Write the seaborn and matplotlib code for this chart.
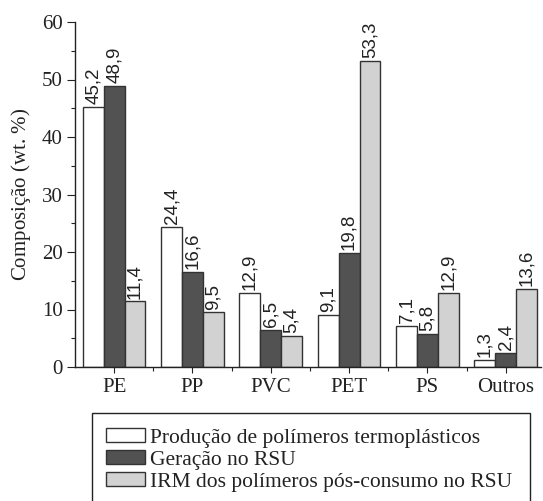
#!/usr/bin/env python
# -*- coding: utf-8 -*-

import pandas as pd
import seaborn as sns
import matplotlib.pyplot as plt
import matplotlib.patches as mpatches
from matplotlib.ticker import MultipleLocator, FixedLocator

# dados
categorias = ["PE", "PP", "PVC", "PET", "PS", "Outros"]
producao = [45.2, 24.4, 12.9, 9.1, 7.1, 1.3]
geracao = [48.9, 16.6, 6.5, 19.8, 5.8, 2.4]
irm = [11.4, 9.5, 5.4, 53.3, 12.9, 13.6]
series = ["Produção de polímeros termoplásticos",
          "Geração no RSU",
          "IRM dos polímeros pós-consumo no RSU"]
cores = ["#ffffff", "#525252", "#d2d2d2"]
borda = "#333333"

valores = [producao, geracao, irm]
linhas = []
for s, vals in zip(series, valores):
    for c, v in zip(categorias, vals):
        linhas.append({"polimero": c, "serie": s, "valor": v})
df = pd.DataFrame(linhas)

sns.set_style("ticks")
plt.rcParams['font.family'] = ['Liberation Serif', 'DejaVu Serif']
plt.rcParams['mathtext.fontset'] = 'custom'
plt.rcParams['mathtext.it'] = 'Liberation Serif:italic'
plt.rcParams['mathtext.rm'] = 'Liberation Serif'

fig = plt.figure(figsize=(5.43, 5.01), dpi=100)
ax = fig.add_axes([75 / 543, 1 - 367 / 501, (541 - 75) / 543, (367 - 22) / 501])

sns.barplot(data=df, x="polimero", y="valor", hue="serie", order=categorias,
            hue_order=series, palette=cores, saturation=1, width=0.8,
            edgecolor=borda, linewidth=1.0, legend=False, ax=ax)

for i, cont in enumerate(ax.containers):
    rotulos = [("%.1f" % v).replace(".", ",") for v in valores[i]]
    ax.bar_label(cont, labels=rotulos, rotation=90, padding=2,
                 fontsize=13.5, family='Liberation Sans', color="#222222")

ax.set_xlim(-0.5, 5.45)
ax.set_ylim(0, 60)
ax.yaxis.set_major_locator(MultipleLocator(10))
ax.yaxis.set_minor_locator(MultipleLocator(5))
ax.xaxis.set_minor_locator(FixedLocator([0.5, 1.5, 2.5, 3.5, 4.5]))
sns.despine(ax=ax)
for sp in ["left", "bottom"]:
    ax.spines[sp].set_color("#222222")
    ax.spines[sp].set_linewidth(1.0)

ax.tick_params(axis="y", which="major", length=6, width=0.8, labelsize=15, pad=3, colors="#222222")
ax.tick_params(axis="y", which="minor", length=3, width=0.8, colors="#222222")
ax.tick_params(axis="x", which="major", length=4, width=0.8, labelsize=15, pad=4, colors="#222222")
ax.tick_params(axis="x", which="minor", length=3, width=0.8, colors="#222222")

ax.set_xlabel("")
ax.set_ylabel(r"Composição (wt. $\mathit{\%}$)", fontsize=15, color="#222222", labelpad=6)

# caixa da legenda, cortada na borda inferior como no original
caixa = mpatches.Rectangle((92 / 543, -0.05), (530 - 92) / 543, (1 - 413 / 501) + 0.05,
                           transform=fig.transFigure, fill=False,
                           edgecolor="#222222", linewidth=1.0)
fig.patches.append(caixa)

handles = [mpatches.Patch(facecolor=c, edgecolor=borda, linewidth=1.0) for c in cores]
leg = fig.legend(handles, series, loc="upper left",
                 bbox_to_anchor=(106 / 543, 1 - 428 / 501),
                 borderaxespad=0, borderpad=0, fontsize=15.5, frameon=False,
                 handlelength=1.8, handleheight=0.65,
                 handletextpad=0.25, labelspacing=0.1)
for t in leg.get_texts():
    t.set_color("#222222")

plt.savefig("out.png", dpi=100)
plt.close()
